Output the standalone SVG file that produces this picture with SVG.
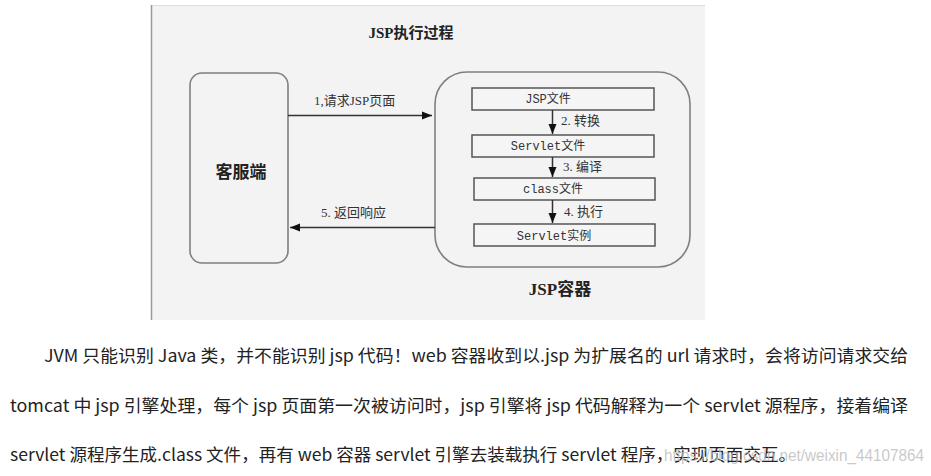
<svg xmlns="http://www.w3.org/2000/svg" width="931" height="476" viewBox="0 0 931 476">
<style>
.bg{fill:#f3f3f3}
.outer{fill:none;stroke:#7f7f7f;stroke-width:1.6}
.inner{fill:#f5f5f5;stroke:#555;stroke-width:1.5}
.conn{stroke:#333;stroke-width:1.5;fill:none}
.tb{font-family:"Liberation Serif","Noto Sans CJK SC",serif;font-weight:bold;fill:#222}
.lbl{font-family:"Liberation Serif","Noto Sans CJK SC",serif;font-size:13px;fill:#333}
.mono{font-family:"Liberation Mono","Noto Sans CJK SC",monospace;font-size:12px;fill:#333}
.body{font-family:"Noto Sans CJK SC","Open Sans",sans-serif;font-size:17px;fill:#222}
.wm{font-family:"Liberation Sans",Arial,sans-serif;font-size:17px;fill:#bbb;fill-opacity:0.8}
</style>
<defs>
<marker id="ah" viewBox="0 0 10 10" refX="10" refY="5" markerWidth="10" markerHeight="10" markerUnits="userSpaceOnUse" orient="auto">
<path d="M0,1 L10,5 L0,9 Z" fill="#111"/>
</marker>
</defs>
<rect x="0" y="0" width="931" height="476" fill="#fff"/>
<rect class="bg" x="151" y="5" width="554" height="315"/>
<line x1="151" y1="5.5" x2="705" y2="5.5" stroke="#ddd" stroke-width="1"/>
<line x1="151.5" y1="5" x2="151.5" y2="320" stroke="#999" stroke-width="1.5"/>
<text class="tb" x="411" y="38" font-size="15" text-anchor="middle">JSP执行过程</text>

<g id="client">
<rect class="outer" x="190" y="73" width="98" height="190" rx="12"/>
<text class="tb" x="241" y="178" font-size="17" text-anchor="middle">客服端</text>
</g>

<g id="container">
<rect class="outer" x="435" y="72" width="255" height="195" rx="32"/>
<text class="tb" x="560" y="295" font-size="17" text-anchor="middle">JSP容器</text>
</g>

<g id="jspfile">
<rect class="inner" x="472" y="88" width="182" height="22"/>
<text class="mono" x="548" y="103" text-anchor="middle">JSP文件</text>
</g>
<g id="servletfile">
<rect class="inner" x="472" y="135" width="182" height="22"/>
<text class="mono" x="548" y="150" text-anchor="middle">Servlet文件</text>
</g>
<g id="classfile">
<rect class="inner" x="474" y="178" width="181" height="22"/>
<text class="mono" x="553" y="193" text-anchor="middle">class文件</text>
</g>
<g id="servletinst">
<rect class="inner" x="474" y="224" width="181" height="22"/>
<text class="mono" x="554" y="240" text-anchor="middle">Servlet实例</text>
</g>

<g id="connectors">
<line class="conn" x1="288" y1="115.5" x2="432" y2="115.5" marker-end="url(#ah)"/>
<text class="lbl" x="314" y="105">1,请求JSP页面</text>
<line class="conn" x1="435" y1="227.5" x2="290" y2="227.5" marker-end="url(#ah)"/>
<text class="lbl" x="321" y="217">5. 返回响应</text>
<line class="conn" x1="552.5" y1="110" x2="552.5" y2="134" marker-end="url(#ah)"/>
<text class="lbl" x="561" y="125">2. 转换</text>
<line class="conn" x1="552.5" y1="157" x2="552.5" y2="177" marker-end="url(#ah)"/>
<text class="lbl" x="563" y="171">3. 编译</text>
<line class="conn" x1="552.5" y1="200" x2="552.5" y2="223" marker-end="url(#ah)"/>
<text class="lbl" x="564" y="216">4. 执行</text>
</g>

<text class="body" x="44" y="362" textLength="864" lengthAdjust="spacingAndGlyphs">JVM 只能识别 Java 类，并不能识别 jsp 代码！web 容器收到以.jsp 为扩展名的 url 请求时，会将访问请求交给</text>
<text class="body" x="10" y="412" textLength="898" lengthAdjust="spacingAndGlyphs">tomcat 中 jsp 引擎处理，每个 jsp 页面第一次被访问时，jsp 引擎将 jsp 代码解释为一个 servlet 源程序，接着编译</text>
<text class="body" x="10" y="461" textLength="786" lengthAdjust="spacingAndGlyphs">servlet 源程序生成.class 文件，再有 web 容器 servlet 引擎去装载执行 servlet 程序，实现页面交互。</text>
<text class="wm" x="664" y="461" textLength="260" lengthAdjust="spacingAndGlyphs">https://blog.csdn.net/weixin_44107864</text>
</svg>
